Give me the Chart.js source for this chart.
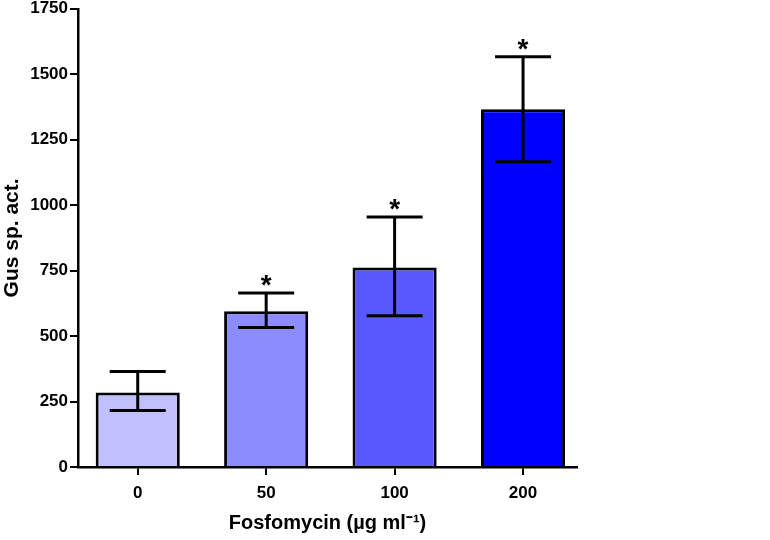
<!DOCTYPE html>
<html>
<head>
<meta charset="utf-8">
<script src="https://cdn.jsdelivr.net/npm/chart.js@4.4.1/dist/chart.umd.min.js"></script>
<style>
  html, body { margin: 0; padding: 0; background: #fff; }
  #wrap { width: 770px; height: 540px; }
</style>
</head>
<body>
<div id="wrap"><canvas id="gusChart"></canvas></div>
<script>
// data
const doses = ["0", "50", "100", "200"];
const gusActivity = [285, 595, 762, 1366];
const errLow = [216, 533, 578, 1166];
const errHigh = [365, 665, 955, 1567];
const signif = ["", "*", "*", "*"];
const yTicks = [0, 250, 500, 750, 1000, 1250, 1500, 1750];
const barColors = ['#c0c0ff', '#8c8cff', '#5959ff', '#0000ff'];

const FONT = "'Liberation Sans', Arial, Helvetica, sans-serif";

// draws the SD whiskers and the significance stars
const errorBars = {
    id: 'errorBars',
    afterDatasetsDraw(chart) {
        const ctx = chart.ctx;
        const xs = chart.scales.x, ys = chart.scales.y;
        ctx.save();
        ctx.strokeStyle = '#000';
        ctx.lineWidth = 3;
        ctx.lineCap = 'butt';
        doses.forEach(function(d, i) {
            const x = xs.getPixelForValue(i);
            const yl = ys.getPixelForValue(errLow[i]);
            const yh = ys.getPixelForValue(errHigh[i]);
            const half = 28;
            ctx.beginPath();
            ctx.moveTo(x, yl); ctx.lineTo(x, yh);
            ctx.moveTo(x - half, yl); ctx.lineTo(x + half, yl);
            ctx.moveTo(x - half, yh); ctx.lineTo(x + half, yh);
            ctx.stroke();
            if (signif[i]) {
                ctx.fillStyle = '#000';
                ctx.font = 'bold 28px ' + FONT;
                ctx.textAlign = 'center';
                ctx.textBaseline = 'alphabetic';
                ctx.fillText(signif[i], x, yh + 1);
            }
        });
        ctx.restore();
    }
};

const ctx = document.getElementById('gusChart').getContext('2d');
const gusChart = new Chart(ctx, {
    type: 'bar',
    data: {
        datasets: [{
            label: 'Gus sp. act.',
            data: gusActivity.map(function(v, i) { return { x: i, y: v }; }),
            backgroundColor: barColors,
            borderColor: '#000',
            borderWidth: 3,
            borderSkipped: 'bottom',
            barPercentage: 0.655,
            categoryPercentage: 1.0
        }]
    },
    options: {
        responsive: true,
        maintainAspectRatio: false,
        animation: false,
        layout: { padding: { left: 0, right: 193, top: 0, bottom: 5 } },
        plugins: { legend: { display: false }, tooltip: { enabled: false } },
        scales: {
            x: {
                type: 'linear',
                offset: false,
                min: -0.465,
                max: 3.42,
                afterBuildTicks: function(scale) {
                    scale.ticks = doses.map(function(d, i) { return { value: i }; });
                },
                afterFit: function(scale) { scale.height = 68; },
                ticks: {
                    color: '#000',
                    font: { family: FONT, size: 17, weight: 'bold' },
                    padding: 8,
                    maxRotation: 0,
                    callback: function(v) { return doses[v]; }
                },
                grid: { offset: false, drawOnChartArea: false, drawTicks: true, tickLength: 8, color: '#000', lineWidth: 2 },
                border: { color: '#000', width: 2.5 },
                title: {
                    display: true,
                    text: 'Fosfomycin (\u00b5g ml\u207b\u00b9)',
                    color: '#000',
                    font: { family: FONT, size: 20, weight: 'bold' },
                    padding: { top: 0, bottom: 0 }
                }
            },
            y: {
                min: 0,
                max: 1750,
                afterBuildTicks: function(scale) {
                    scale.ticks = yTicks.map(function(v) { return { value: v }; });
                },
                afterFit: function(scale) { scale.width = 78; },
                ticks: {
                    color: '#000',
                    font: { family: FONT, size: 17, weight: 'bold', lineHeight: 0.8 },
                    padding: 2,
                    callback: function(v) { return String(v); }
                },
                grid: { drawOnChartArea: false, drawTicks: true, tickLength: 8, color: '#000', lineWidth: 2 },
                border: { color: '#000', width: 2.5 },
                title: {
                    display: true,
                    text: 'Gus sp. act.',
                    color: '#000',
                    font: { family: FONT, size: 21, weight: 'bold' },
                    padding: { top: 0, bottom: 0 }
                }
            }
        }
    },
    plugins: [errorBars]
});
</script>
</body>
</html>
